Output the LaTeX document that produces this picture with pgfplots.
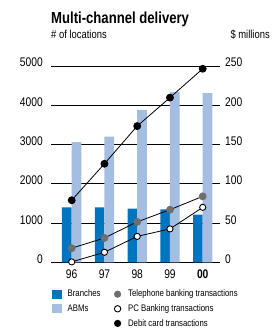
\documentclass[border=0pt]{standalone}
\usepackage{pgfplots}
\pgfplotsset{compat=1.18}
\usepackage{fontspec}
\IfFontExistsTF{Liberation Sans Narrow}{\setmainfont{Liberation Sans Narrow}}{\setmainfont{Liberation Sans}[FakeStretch=0.82]}
\definecolor{blueA}{HTML}{0075BF}
\definecolor{blueB}{HTML}{A5BDE1}
\definecolor{grayT}{HTML}{6E6E6E}
\begin{document}
\begin{tikzpicture}
\useasboundingbox (-51pt,-65.7pt) rectangle (229pt,262.3pt);
\pgfplotsset{
  common/.style={
    at={(0pt,0pt)}, anchor=south west,
    scale only axis, width=169pt, height=196.3pt,
    xmin=-0.632, xmax=4.528,
    axis line style={draw=none},
    major tick length=0pt,
    tick style={draw=none},
    /pgf/number format/assume math mode=true,
    /pgf/number format/1000 sep={},
    tick label style={font=\fontsize{12.5}{14}\selectfont, inner sep=0pt},
  }
}
\begin{axis}[common,
  ymin=0, ymax=5000,
  ytick={0,1000,...,5000},
  ymajorgrids,
  grid style={black, line width=0.8pt},
  yticklabel style={anchor=base east, xshift=-8pt, yshift=-1pt},
  xtick={0,1,2,3,4},
  xticklabels={96,97,98,99,\textbf{00}},
  xticklabel style={anchor=base, yshift=-16.5pt},
]
\addplot[ybar, bar width=9.7pt, bar shift=-4.85pt, fill=blueA, draw=none]
  coordinates {(0,1396) (1,1396) (2,1370) (3,1345) (4,1217)};
\addplot[ybar, bar width=9.7pt, bar shift=4.85pt, fill=blueB, draw=none]
  coordinates {(0,3060) (1,3200) (2,3880) (3,4340) (4,4310)};
\end{axis}
\begin{axis}[common,
  ymin=0, ymax=250,
  ytick={0,50,...,250},
  xtick=\empty,
  yticklabel pos=right,
  yticklabel style={anchor=base west, xshift=5pt, yshift=-1pt},
  clip=false,
  legend columns=2,
  legend cell align=left,
  legend style={draw=none, fill=none, at={(0,0)}, anchor=north west,
    xshift=1pt, yshift=-27.2pt, inner sep=0pt, row sep=5.6pt,
    font=\fontsize{9.5}{11}\selectfont,
    nodes={inner sep=0pt},
    /tikz/every odd column/.append style={column sep=5.5pt},
    /tikz/every even column/.append style={column sep=12pt}},
]
\addlegendimage{legend image code/.code={\path[draw=none,fill=none] (0pt,-4.5pt) rectangle (10pt,4.5pt);\fill[blueA, draw=none] (0pt,-4.5pt) rectangle (10pt,4.5pt);}}
\addlegendentry{Branches}
\addlegendimage{legend image code/.code={\path[draw=none,fill=none] (0pt,-4.5pt) rectangle (10pt,4.5pt);\fill[grayT, draw=none] (5pt,0pt) circle (3.6pt);}}
\addlegendentry{Telephone banking transactions}
\addlegendimage{legend image code/.code={\path[draw=none,fill=none] (0pt,-4.5pt) rectangle (10pt,4.5pt);\fill[blueB, draw=none] (0pt,-4.5pt) rectangle (10pt,4.5pt);}}
\addlegendentry{ABMs}
\addlegendimage{legend image code/.code={\path[draw=none,fill=none] (0pt,-4.5pt) rectangle (10pt,4.5pt);\draw[black, line width=0.9pt, fill=white] (5pt,0pt) circle (3.2pt);}}
\addlegendentry{PC Banking transactions}
\addlegendimage{legend image code/.code={\path[draw=none,fill=none] (0pt,-4.5pt) rectangle (10pt,4.5pt);}}
\addlegendentry{}
\addlegendimage{legend image code/.code={\path[draw=none,fill=none] (0pt,-4.5pt) rectangle (10pt,4.5pt);\fill[black, draw=none] (5pt,0pt) circle (3.6pt);}}
\addlegendentry{Debit card transactions}
\addplot[forget plot, black, line width=0.8pt, mark=*, mark size=3.5pt, mark options={fill=grayT, draw=grayT}]
  coordinates {(0,18) (1,31) (2,51.5) (3,67) (4,84)};
\addplot[forget plot, black, line width=0.8pt, mark=*, mark size=3.1pt, mark options={fill=white, draw=black, line width=0.9pt}]
  coordinates {(0,0.5) (1,12.8) (2,33) (3,42.5) (4,70)};
\addplot[forget plot, black, line width=0.8pt, mark=*, mark size=3.5pt, mark options={fill=black}]
  coordinates {(0,79) (1,125.5) (2,173.5) (3,209.7) (4,246.5)};
\end{axis}
\node[anchor=base west, inner sep=0pt, font=\bfseries\fontsize{16}{18}\selectfont] at (0pt,239pt) {Multi-channel delivery};
\node[anchor=base west, inner sep=0pt, font=\fontsize{11.5}{13}\selectfont] at (0pt,224pt) {\# of locations};
\node[anchor=base east, inner sep=0pt, font=\fontsize{11.5}{13}\selectfont] at (219pt,224pt) {\$ millions};
\end{tikzpicture}
\end{document}
